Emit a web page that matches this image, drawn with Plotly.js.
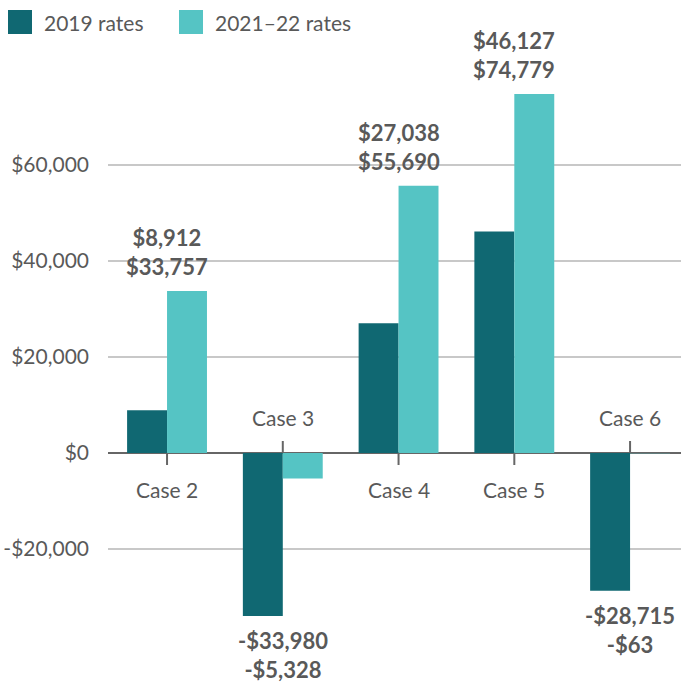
<!DOCTYPE html>
<html>
<head>
<meta charset="utf-8">
<script src="https://cdn.plot.ly/plotly-3.0.1.min.js"></script>
<style>html,body{margin:0;padding:0;background:#fff;}#chart{width:681px;height:684px;}</style>
</head>
<body>
<div id="chart"></div>
<script>
const categories = ["Case 2", "Case 3", "Case 4", "Case 5", "Case 6"];
const seriesNames = ["2019 rates", "2021–22 rates"];
const rates2019 = [8912, -33980, 27038, 46127, -28715];
const rates2021 = [33757, -5328, 55690, 74779, -63];
const yTickVals = [-20000, 0, 20000, 40000, 60000];
const yTickText = ["-$20,000", "$0", "$20,000", "$40,000", "$60,000"];

const colors = ["#106872", "#55c4c4"];
const textColor = "#595959";
const fontFam = "'Source Sans Pro', Lato, 'Noto Sans', sans-serif";

function fmt(v) {
  const s = Math.abs(v).toLocaleString("en-US");
  return (v < 0 ? "-$" : "$") + s;
}

const traces = [rates2019, rates2021].map((vals, i) => ({
  type: "bar",
  x: categories,
  y: vals,
  name: seriesNames[i],
  marker: {color: colors[i]},
  hoverinfo: "none"
}));

const annotations = [];
const shapes = [];
categories.forEach((c, i) => {
  const a = rates2019[i], b = rates2021[i];
  const neg = Math.max(a, b) <= 0;
  // value labels
  annotations.push({
    x: c, xref: "x",
    y: neg ? Math.min(a, b) : Math.max(a, b), yref: "y",
    text: "<b>" + fmt(a) + "<br>" + fmt(b) + "</b>",
    showarrow: false,
    yanchor: neg ? "top" : "bottom",
    yshift: neg ? -9 : 9,
    font: {family: fontFam, size: 22, color: textColor},
    align: "center"
  });
  // category labels
  annotations.push({
    x: c, xref: "x", y: 0, yref: "y",
    text: c, showarrow: false,
    yanchor: neg ? "bottom" : "top",
    yshift: neg ? 21 : -22,
    font: {family: fontFam, size: 21, color: textColor}
  });
  // tick marks
  shapes.push({
    type: "line", xref: "x", yref: "y",
    x0: c, x1: c,
    ysizemode: "pixel", yanchor: 0,
    y0: 0, y1: neg ? 12 : -12,
    line: {color: "#666", width: 2}
  });
});

// legend
const legX = [8, 179];
seriesNames.forEach((n, i) => {
  shapes.push({
    type: "rect", xref: "paper", yref: "paper",
    xsizemode: "pixel", ysizemode: "pixel",
    xanchor: 0, yanchor: 1,
    x0: legX[i] - 108, x1: legX[i] - 108 + 24,
    y0: -10, y1: -34,
    fillcolor: colors[i], line: {width: 0}
  });
  annotations.push({
    xref: "paper", yref: "paper", x: 0, y: 1,
    xshift: legX[i] - 108 + 34, yshift: -22,
    xanchor: "left", yanchor: "middle",
    text: n, showarrow: false,
    font: {family: fontFam, size: 21, color: textColor}
  });
});

const layout = {
  width: 681, height: 684,
  margin: {l: 108, r: 0, t: 0, b: 0},
  paper_bgcolor: "#fff", plot_bgcolor: "#fff",
  showlegend: false,
  barmode: "group",
  bargap: 0.31,
  bargroupgap: 0,
  font: {family: fontFam, color: textColor},
  xaxis: {
    type: "category",
    range: [-0.51, 4.44],
    showticklabels: false,
    showgrid: false,
    ticks: "",
    showline: false,
    zeroline: false,
    fixedrange: true
  },
  yaxis: {
    range: [-48125, 94375],
    tickvals: yTickVals,
    ticktext: yTickText,
    showgrid: true,
    gridcolor: "#c8c8c8",
    gridwidth: 1.5,
    zeroline: true,
    zerolinecolor: "#666",
    zerolinewidth: 2,
    ticks: "",
    ticklabelstandoff: 18,
    tickfont: {family: fontFam, size: 21, color: textColor},
    fixedrange: true
  },
  annotations: annotations,
  shapes: shapes
};

Plotly.newPlot("chart", traces, layout, {displayModeBar: false, staticPlot: true});
</script>
</body>
</html>
